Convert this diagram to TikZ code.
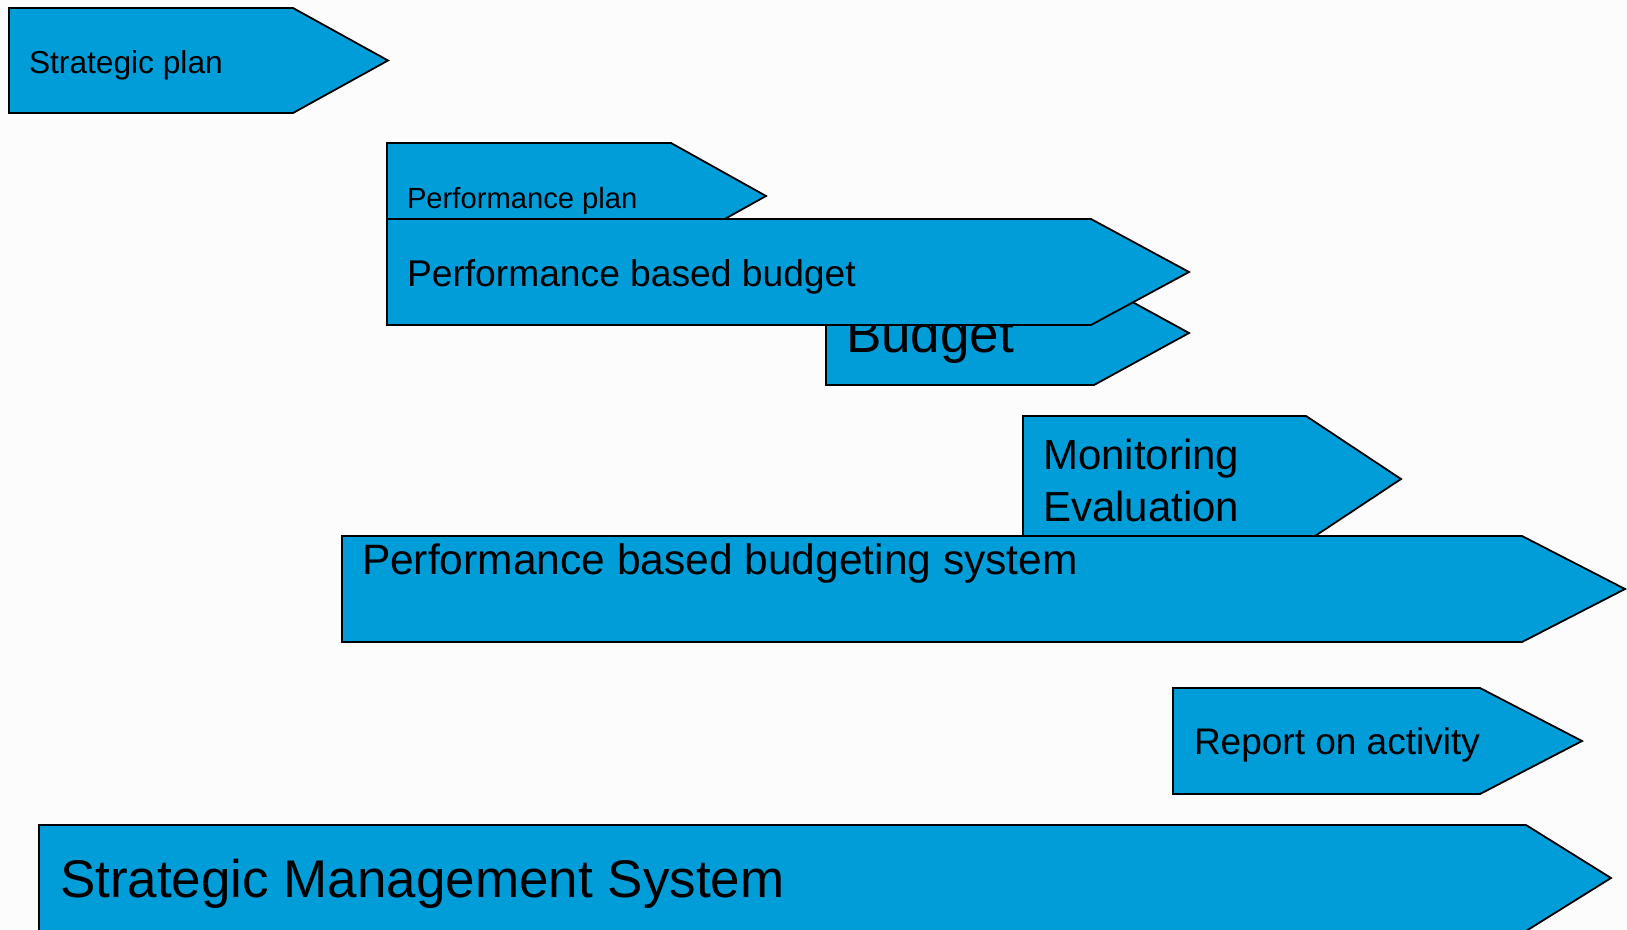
\documentclass[tikz,border=0pt]{standalone}
\usepackage{fontspec}
\setmainfont{Liberation Sans}
\definecolor{tagblue}{RGB}{0,157,217}
\definecolor{paper}{RGB}{252,252,252}
% pentagon-shaped tag: left, body end, tip, top, bottom (pixel units, y downwards)
\newcommand{\tagshape}[5]{%
  \draw[tagbox] (#1,#4) -- (#2,#4) -- (#3,{(#4+#5)/2}) -- (#2,#5) -- (#1,#5) -- cycle;}
\newcommand{\fs}[1]{\fontsize{#1}{1.24\dimexpr#1pt\relax}\selectfont}
\begin{document}
\begin{tikzpicture}[x=1pt,y=-1pt,
  tagbox/.style={fill=tagblue,draw=black,line width=1.8pt,line join=miter},
  label/.style={inner sep=0pt,outer sep=0pt,text=black,anchor=base west}]
\useasboundingbox (0,0) rectangle (1627,929);
\clip (0,0) rectangle (1627,929);
\fill[paper] (0,0) rectangle (1627,929);

% Strategic plan
\tagshape{9}{293}{388}{8}{113}
\node[label,font=\fs{31.7}] (sp) at (29,73) {Strategic plan};

% Performance plan
\tagshape{387}{671}{766}{143}{249}
\node[label,font=\fs{29.2}] (pp) at (407,208) {Performance plan};

% Budget
\tagshape{826}{1094}{1189}{281}{385}
\node[label,font=\fs{53}] (bud) at (846,352) {Budget};

% Performance based budget
\tagshape{387}{1091}{1189}{219}{325}
\node[label,font=\fs{37.2}] (pbb) at (407,286) {Performance based budget};

% Monitoring / Evaluation
\tagshape{1023}{1306}{1401}{416}{542}
\node[inner sep=0pt,anchor=north west,align=left,font={\fontsize{42}{52}\selectfont}] (me) at (1043,439) {Monitoring\\Evaluation};

% Performance based budgeting system
\tagshape{342}{1522}{1625}{536}{642}
\node[label,font=\fs{42.5}] (pbbs) at (362,574) {Performance based budgeting system};

% Report on activity
\tagshape{1173}{1480}{1582}{688}{794}
\node[label,font=\fs{37}] (roa) at (1194,754) {Report on activity};

% Strategic Management System
\tagshape{39}{1526}{1611}{825}{931}
\node[label,font=\fs{53}] (sms) at (60,897) {Strategic Management System};
\end{tikzpicture}
\end{document}
